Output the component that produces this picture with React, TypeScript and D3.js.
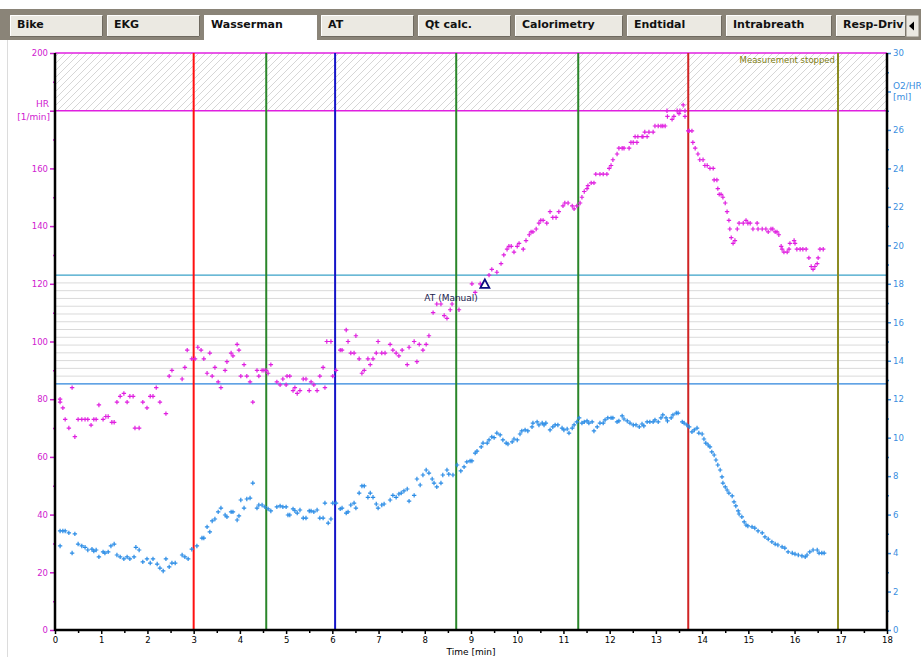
import * as d3 from 'd3'
import { useRef, useEffect } from 'react'

const tabNames = ['Bike', 'EKG', 'Wasserman', 'AT', 'Qt calc.', 'Calorimetry', 'Endtidal', 'Intrabreath', 'Resp-Driv']
const activeTab = 'Wasserman'

const hrTicks = [0, 20, 40, 60, 80, 100, 120, 140, 160, 180, 200]
const o2Ticks = [0, 2, 4, 6, 8, 10, 12, 14, 16, 18, 20, 22, 24, 26, 28, 30]
const timeTicks = [0, 1, 2, 3, 4, 5, 6, 7, 8, 9, 10, 11, 12, 13, 14, 15, 16, 17, 18]
// tick labels hidden behind the axis titles
const hrHiddenLabel = 180
const o2HiddenLabel = 28

// phase markers (min)
const eventTimes = [3.0, 4.57, 6.06, 8.68, 11.32, 13.7, 16.94]
const eventColors = ['#ff1010', '#2a862a', '#1414c8', '#2a862a', '#2a862a', '#d02424', '#8c8c22']

const hrLimit = 180
const bandTop = 123
const bandBottom = 85.3
const atTime = 9.3
const atHr = 120

// HR [1/min] : [time, value]
const hrData = [
  [0.11, 80], [0.11, 79], [0.17, 77], [0.22, 73], [0.3, 70], [0.37, 84], [0.43, 67], [0.5, 73], [0.58, 73], [0.65, 73],
  [0.71, 73], [0.78, 71], [0.84, 73], [0.89, 73], [0.95, 78], [1.04, 73], [1.1, 74], [1.15, 74], [1.23, 72], [1.28, 72],
  [1.34, 79], [1.41, 81], [1.49, 82], [1.56, 79], [1.62, 81], [1.69, 81], [1.73, 70], [1.82, 70], [1.9, 79], [1.99, 77],
  [2.06, 81], [2.12, 81], [2.19, 84], [2.27, 79], [2.4, 75], [2.47, 88], [2.53, 90], [2.75, 87], [2.81, 91], [2.86, 97],
  [2.96, 94], [3.03, 94], [3.09, 98], [3.16, 97], [3.22, 94], [3.29, 89], [3.35, 96], [3.4, 88], [3.46, 91], [3.53, 86],
  [3.59, 84], [3.68, 90], [3.72, 93], [3.81, 96], [3.85, 95], [3.94, 99], [3.98, 97], [4.02, 88], [4.09, 92], [4.15, 88],
  [4.22, 86], [4.28, 79], [4.37, 90], [4.41, 88], [4.48, 90], [4.52, 90], [4.57, 90], [4.61, 89], [4.67, 92], [4.8, 86],
  [4.87, 85], [4.93, 87], [5.0, 85], [5.02, 88], [5.08, 88], [5.15, 83], [5.19, 84], [5.24, 82], [5.3, 83], [5.37, 87],
  [5.43, 87], [5.5, 83], [5.54, 86], [5.6, 85], [5.67, 83], [5.73, 88], [5.8, 91], [5.84, 84], [5.88, 100], [5.97, 100],
  [6.01, 88], [6.08, 90], [6.17, 97], [6.21, 97], [6.3, 104], [6.34, 100], [6.4, 96], [6.47, 96], [6.51, 102], [6.58, 94],
  [6.64, 89], [6.69, 90], [6.77, 94], [6.82, 92], [6.88, 94], [6.95, 96], [6.99, 100], [7.07, 96], [7.14, 96], [7.25, 99],
  [7.31, 97], [7.38, 96], [7.44, 95], [7.51, 97], [7.62, 92], [7.66, 98], [7.77, 100], [7.83, 93], [7.88, 99], [7.96, 97],
  [8.03, 99], [8.09, 102], [8.18, 110], [8.26, 113], [8.35, 113], [8.42, 109], [8.48, 108], [8.55, 111], [8.59, 113], [8.74, 111],
  [9.02, 120], [9.09, 117], [9.2, 120], [9.39, 123], [9.45, 125], [9.56, 124], [9.65, 127], [9.71, 130], [9.78, 132], [9.82, 133],
  [9.87, 133], [9.93, 131], [10.0, 133], [10.04, 134], [10.13, 132], [10.19, 135], [10.26, 137], [10.3, 138], [10.34, 138], [10.41, 139],
  [10.47, 141], [10.51, 142], [10.56, 142], [10.64, 141], [10.71, 145], [10.77, 143], [10.84, 143], [10.9, 145], [10.99, 147], [11.03, 148],
  [11.1, 148], [11.19, 147], [11.23, 146], [11.29, 147], [11.36, 148], [11.4, 150], [11.45, 152], [11.51, 153], [11.53, 154], [11.6, 155],
  [11.66, 155], [11.7, 158], [11.79, 158], [11.86, 158], [11.94, 158], [11.99, 160], [12.03, 161], [12.07, 163], [12.16, 165], [12.2, 167],
  [12.27, 167], [12.31, 167], [12.42, 167], [12.46, 169], [12.51, 169], [12.55, 171], [12.59, 169], [12.61, 171], [12.7, 171], [12.72, 171],
  [12.76, 172.6], [12.81, 171], [12.85, 172.6], [12.94, 172.6], [12.98, 174.7], [13.05, 174.7], [13.11, 174.7], [13.15, 174.7], [13.2, 174.7], [13.25, 178],
  [13.24, 180], [13.35, 177], [13.39, 178], [13.46, 180], [13.5, 179], [13.52, 180], [13.59, 182], [13.63, 180], [13.63, 178], [13.7, 173],
  [13.72, 173], [13.78, 173], [13.8, 169], [13.85, 167], [13.91, 165], [13.95, 163], [14.02, 163], [14.06, 161], [14.11, 161], [14.17, 160],
  [14.24, 160], [14.26, 156], [14.32, 156], [14.34, 153], [14.37, 151], [14.41, 151], [14.45, 150], [14.5, 148], [14.54, 145], [14.58, 142],
  [14.6, 139], [14.63, 136], [14.67, 134], [14.71, 135], [14.76, 139], [14.8, 141], [14.89, 141], [14.95, 142], [14.99, 141], [15.04, 141],
  [15.1, 139], [15.19, 141], [15.21, 139], [15.3, 139], [15.38, 139], [15.43, 138], [15.49, 139], [15.53, 139], [15.58, 138], [15.62, 138],
  [15.66, 137], [15.71, 133], [15.73, 132], [15.77, 131], [15.84, 131], [15.88, 132], [15.9, 134], [15.99, 135], [16.01, 134], [16.05, 132],
  [16.12, 132], [16.18, 132], [16.25, 132], [16.31, 129], [16.36, 126], [16.4, 125], [16.44, 126], [16.49, 127], [16.51, 129], [16.55, 132],
  [16.62, 132]
]

// O2/HR [ml] : [time, value]
const o2hrData = [
  [0.11, 5.15], [0.17, 5.15], [0.22, 5.15], [0.3, 5.05], [0.43, 5.0], [0.11, 4.37], [0.37, 4.0], [0.5, 4.47], [0.58, 4.37], [0.65, 4.3],
  [0.71, 4.16], [0.8, 4.2], [0.84, 4.1], [0.89, 4.16], [0.95, 3.8], [1.04, 4.06], [1.08, 4.0], [1.15, 4.06], [1.21, 4.37], [1.28, 4.47],
  [1.34, 3.9], [1.41, 3.8], [1.49, 3.7], [1.56, 3.8], [1.62, 3.7], [1.71, 3.8], [1.75, 4.3], [1.82, 4.16], [1.9, 3.54], [1.99, 3.7],
  [2.06, 3.48], [2.12, 3.7], [2.21, 3.43], [2.27, 3.22], [2.34, 3.07], [2.4, 3.7], [2.47, 3.28], [2.53, 3.48], [2.6, 3.48], [2.75, 3.9],
  [2.81, 3.8], [2.88, 3.7], [2.96, 4.2], [3.07, 4.37], [3.18, 4.78], [3.22, 4.78], [3.29, 5.36], [3.35, 5.1], [3.4, 5.67], [3.46, 5.77],
  [3.53, 6.14], [3.59, 6.34], [3.68, 5.98], [3.72, 5.88], [3.81, 6.14], [3.85, 6.14], [3.94, 5.72], [3.98, 5.93], [4.02, 6.76], [4.09, 6.34],
  [4.15, 6.81], [4.22, 6.86], [4.28, 7.64], [4.37, 6.34], [4.41, 6.5], [4.48, 6.5], [4.54, 6.4], [4.61, 6.3], [4.67, 6.19], [4.8, 6.4],
  [4.87, 6.45], [4.93, 6.4], [5.0, 6.4], [5.04, 5.98], [5.08, 5.98], [5.15, 6.3], [5.19, 6.2], [5.24, 6.08], [5.3, 6.24], [5.37, 5.82],
  [5.43, 5.82], [5.5, 6.19], [5.54, 6.19], [5.6, 6.14], [5.67, 6.24], [5.73, 5.82], [5.8, 5.82], [5.84, 6.6], [5.91, 5.56], [5.97, 5.77],
  [6.01, 6.6], [6.08, 6.6], [6.17, 6.3], [6.21, 6.34], [6.3, 6.08], [6.34, 6.14], [6.4, 6.5], [6.47, 6.6], [6.51, 6.34], [6.58, 7.12],
  [6.64, 7.49], [6.69, 7.49], [6.77, 6.9], [6.82, 7.12], [6.88, 6.9], [6.95, 6.55], [6.99, 6.34], [7.07, 6.5], [7.12, 6.55], [7.25, 6.76],
  [7.31, 7.0], [7.38, 6.9], [7.44, 7.07], [7.49, 7.12], [7.55, 7.23], [7.62, 7.33], [7.66, 6.7], [7.77, 7.0], [7.83, 7.85], [7.9, 7.54],
  [7.96, 8.06], [8.03, 8.32], [8.09, 8.16], [8.16, 7.85], [8.2, 7.64], [8.26, 7.44], [8.35, 7.64], [8.39, 8.06], [8.48, 8.32], [8.52, 8.1],
  [8.61, 8.06], [8.7, 8.58], [8.78, 8.27], [8.85, 8.48], [8.91, 8.74], [8.98, 8.79], [9.02, 8.79], [9.09, 9.2], [9.13, 9.3], [9.22, 9.52],
  [9.26, 9.72], [9.35, 9.72], [9.39, 9.88], [9.45, 10.04], [9.5, 10.0], [9.56, 10.24], [9.63, 10.14], [9.69, 9.88], [9.76, 9.72], [9.8, 9.67],
  [9.89, 9.78], [9.93, 9.93], [10.0, 9.88], [10.06, 10.19], [10.1, 10.35], [10.17, 10.4], [10.23, 10.35], [10.32, 10.56], [10.34, 10.76], [10.43, 10.82],
  [10.47, 10.66], [10.54, 10.76], [10.58, 10.66], [10.62, 10.76], [10.71, 10.4], [10.77, 10.56], [10.82, 10.66], [10.88, 10.66], [10.97, 10.5], [11.01, 10.4],
  [11.08, 10.45], [11.12, 10.24], [11.19, 10.5], [11.23, 10.66], [11.29, 10.82], [11.34, 11.03], [11.4, 10.76], [11.45, 10.82], [11.51, 10.87], [11.55, 10.76],
  [11.62, 10.82], [11.66, 10.35], [11.73, 10.56], [11.79, 10.76], [11.86, 10.76], [11.9, 10.92], [11.96, 11.03], [12.03, 11.03], [12.07, 11.03], [12.16, 10.82],
  [12.2, 10.87], [12.27, 11.13], [12.31, 10.97], [12.38, 10.87], [12.44, 10.76], [12.51, 10.66], [12.57, 10.66], [12.64, 10.56], [12.7, 10.71], [12.74, 10.61],
  [12.81, 10.82], [12.87, 10.82], [12.94, 10.82], [12.98, 10.92], [13.05, 10.82], [13.11, 11.03], [13.15, 11.18], [13.22, 11.03], [13.25, 10.87], [13.33, 11.03],
  [13.37, 11.18], [13.44, 11.28], [13.48, 11.28], [13.57, 10.82], [13.61, 10.76], [13.67, 10.66], [13.72, 10.56], [13.78, 10.3], [13.83, 10.4], [13.89, 10.5],
  [13.93, 10.24], [14.0, 10.19], [14.04, 9.93], [14.08, 9.72], [14.13, 9.62], [14.17, 9.52], [14.21, 9.26], [14.26, 9.1], [14.3, 8.84], [14.34, 8.58],
  [14.39, 8.32], [14.43, 7.96], [14.45, 7.64], [14.5, 7.44], [14.54, 7.28], [14.58, 7.12], [14.65, 6.97], [14.69, 6.66], [14.73, 6.45], [14.78, 6.19],
  [14.8, 6.03], [14.86, 5.88], [14.91, 5.62], [14.95, 5.46], [14.99, 5.41], [15.08, 5.36], [15.14, 5.3], [15.21, 5.15], [15.3, 5.05], [15.36, 4.84],
  [15.43, 4.73], [15.51, 4.58], [15.58, 4.47], [15.64, 4.42], [15.73, 4.32], [15.79, 4.26], [15.86, 4.06], [15.95, 4.0], [16.01, 3.95], [16.08, 3.9],
  [16.16, 3.85], [16.23, 3.8], [16.27, 3.9], [16.33, 4.06], [16.4, 4.16], [16.49, 4.16], [16.53, 4.0], [16.59, 4.0], [16.64, 4.0]
]

const App = () => {
  const chart = useRef<SVGSVGElement>(null)

  useEffect(() => {
    drawChart()
  }, [])

  const drawChart = () => {
    const W = 921
    const H = 657
    const margin = { top: 53, right: 34, bottom: 27, left: 55 }
    const font = 'DejaVu Sans, Verdana, sans-serif'
    const magenta = '#e020e0'
    const hrText = '#d020d0'
    const blue = '#2a8ce6'
    const blueText = '#3a8ee0'

    const svg = d3.select(chart.current)
    svg.selectAll('*').remove()
    svg.attr('width', W).attr('height', H)

    const x = d3.scaleLinear().domain([0, 18]).range([margin.left, W - margin.right])
    const yHr = d3.scaleLinear().domain([0, 200]).range([H - margin.bottom, margin.top])
    const yO2 = d3.scaleLinear().domain([0, 30]).range([H - margin.bottom, margin.top])
    const [x0, x1] = x.range()
    const [yb, yt] = yHr.range()

    svg.append('rect').attr('width', W).attr('height', H).attr('fill', '#fff')

    // tab strip
    svg.append('rect').attr('x', 0).attr('y', 9).attr('width', W).attr('height', 31).attr('fill', '#8a8478')
    const tabWidths = [93, 93, 113, 93, 93, 108, 95, 106, 70]
    let tx = 10
    tabNames.forEach((name, i) => {
      const w = tabWidths[i]
      const active = name === activeTab
      const g = svg.append('g')
      g.append('rect')
        .attr('x', tx).attr('y', 15)
        .attr('width', w).attr('height', active ? 27 : 22)
        .attr('fill', active ? '#fff' : '#ebe9e2')
      if (!active) {
        g.append('path').attr('d', `M${tx + 0.5},37V15.5H${tx + w}`).attr('stroke', '#fff').attr('fill', 'none')
        g.append('path').attr('d', `M${tx + w - 0.5},15.5V36.5H${tx}`).attr('stroke', '#6f6a60').attr('fill', 'none')
      }
      g.append('text')
        .attr('x', tx + 7).attr('y', 28)
        .attr('font-family', font).attr('font-size', 11).attr('font-weight', 'bold')
        .attr('fill', '#111')
        .text(name)
      tx += w + 4
    })
    svg.append('rect').attr('x', 906).attr('y', 15).attr('width', 13).attr('height', 22).attr('fill', '#ebe9e2').attr('stroke', '#8a8478')
    svg.append('path').attr('d', 'M909,26L914,21.5V30.5Z').attr('fill', '#000')

    // panel edge
    svg.append('line').attr('x1', 7.5).attr('x2', 7.5).attr('y1', 40).attr('y2', H).attr('stroke', '#dcdcdc')

    // hatched area above HR limit
    const defs = svg.append('defs')
    const pat = defs.append('pattern').attr('id', 'hatch').attr('patternUnits', 'userSpaceOnUse')
      .attr('width', 7).attr('height', 7)
    pat.append('path').attr('d', 'M-1,8L8,-1M-1,1L1,-1M6,8L8,6').attr('stroke', '#d6d6d6').attr('stroke-width', 1)
    svg.append('rect')
      .attr('x', x0).attr('y', yt)
      .attr('width', x1 - x0).attr('height', yHr(hrLimit) - yt)
      .attr('fill', 'url(#hatch)')

    // band between thresholds
    const bandY = d3.scaleLinear().domain([0, 14]).range([yHr(bandTop), yHr(bandBottom)])
    svg.append('g').selectAll('line').data(d3.range(1, 14)).join('line')
      .attr('x1', x0).attr('x2', x1)
      .attr('y1', d => bandY(d)).attr('y2', d => bandY(d))
      .attr('stroke', '#dadada').attr('stroke-width', 1)
    svg.append('line').attr('x1', x0).attr('x2', x1)
      .attr('y1', yHr(bandTop)).attr('y2', yHr(bandTop))
      .attr('stroke', '#3aa2c8').attr('stroke-width', 1.2)
    svg.append('line').attr('x1', x0).attr('x2', x1)
      .attr('y1', yHr(bandBottom)).attr('y2', yHr(bandBottom))
      .attr('stroke', '#2c84dc').attr('stroke-width', 1.2)

    // HR limit lines
    svg.append('line').attr('x1', x0).attr('x2', x1)
      .attr('y1', yHr(hrLimit)).attr('y2', yHr(hrLimit))
      .attr('stroke', magenta).attr('stroke-width', 1.5)
    svg.append('line').attr('x1', x0).attr('x2', x1)
      .attr('y1', yHr(200)).attr('y2', yHr(200))
      .attr('stroke', magenta).attr('stroke-width', 1.5)

    // phase markers
    svg.append('g').selectAll('line').data(eventTimes).join('line')
      .attr('x1', d => x(d)).attr('x2', d => x(d))
      .attr('y1', yt).attr('y2', yb)
      .attr('stroke', (d, i) => eventColors[i]).attr('stroke-width', 2)

    svg.append('text')
      .attr('x', x(eventTimes[6]) - 3).attr('y', 63)
      .attr('text-anchor', 'end')
      .attr('font-family', font).attr('font-size', 8.5)
      .attr('fill', '#7c7c10')
      .text('Measurement stopped')

    // data points
    const plus = 'M-2.2,0H2.2M0,-2.2V2.2'
    svg.append('g').selectAll('path').data(o2hrData).join('path')
      .attr('transform', d => `translate(${x(d[0])},${yO2(d[1])})`)
      .attr('d', plus).attr('stroke', blue).attr('stroke-width', 1.2)
    svg.append('g').selectAll('path').data(hrData).join('path')
      .attr('transform', d => `translate(${x(d[0])},${yHr(d[1])})`)
      .attr('d', plus).attr('stroke', magenta).attr('stroke-width', 1.2)

    // AT marker
    const ax = x(atTime)
    const ay = yHr(atHr)
    svg.append('path')
      .attr('d', `M${ax},${ay - 4.5}L${ax + 4.5},${ay + 4}H${ax - 4.5}Z`)
      .attr('fill', 'none').attr('stroke', '#0a0a80').attr('stroke-width', 1.8)
    svg.append('text')
      .attr('x', ax - 7).attr('y', ay + 17)
      .attr('text-anchor', 'end')
      .attr('font-family', font).attr('font-size', 9)
      .attr('fill', '#1c1c50')
      .text('AT (Manual)')

    // axes
    const styleAxis = (g, color) => {
      g.select('.domain').remove()
      g.selectAll('.tick line').attr('stroke', color).attr('stroke-width', 1.5)
      g.selectAll('.tick text').attr('fill', color).attr('font-family', font).attr('font-size', 8.5)
    }

    const left = svg.append('g').attr('transform', `translate(${x0},0)`)
      .call(d3.axisLeft(yHr).tickValues(d3.range(10, 200, 20)).tickSize(2).tickFormat(() => ''))
    styleAxis(left, magenta)
    const leftMajor = svg.append('g').attr('transform', `translate(${x0},0)`)
      .call(d3.axisLeft(yHr).tickValues(hrTicks).tickSize(5).tickPadding(2)
        .tickFormat(d => (d === hrHiddenLabel ? '' : String(d))))
    styleAxis(leftMajor, hrText)

    const right = svg.append('g').attr('transform', `translate(${x1},0)`)
      .call(d3.axisRight(yO2).tickValues(d3.range(1, 30, 2)).tickSize(2).tickFormat(() => ''))
    styleAxis(right, blue)
    const rightMajor = svg.append('g').attr('transform', `translate(${x1},0)`)
      .call(d3.axisRight(yO2).tickValues(o2Ticks).tickSize(4).tickPadding(2)
        .tickFormat(d => (d === o2HiddenLabel ? '' : String(d))))
    styleAxis(rightMajor, blueText)

    const bottom = svg.append('g').attr('transform', `translate(0,${yb})`)
      .call(d3.axisBottom(x).tickValues(d3.range(0.5, 18, 1)).tickSize(3).tickFormat(() => ''))
    styleAxis(bottom, '#000')
    const bottomMajor = svg.append('g').attr('transform', `translate(0,${yb})`)
      .call(d3.axisBottom(x).tickValues(timeTicks).tickSize(4).tickPadding(3))
    styleAxis(bottomMajor, '#000')

    // axis frame lines
    svg.append('line').attr('x1', x0).attr('x2', x0).attr('y1', yt).attr('y2', yb + 1)
      .attr('stroke', '#000').attr('stroke-width', 2.5)
    svg.append('line').attr('x1', x1).attr('x2', x1).attr('y1', yt).attr('y2', yb + 1)
      .attr('stroke', '#000').attr('stroke-width', 2.5)
    svg.append('line').attr('x1', x0).attr('x2', x1).attr('y1', yb).attr('y2', yb)
      .attr('stroke', '#000').attr('stroke-width', 2.5)

    // axis titles
    const leftTitle = svg.append('text')
      .attr('text-anchor', 'end').attr('font-family', font).attr('font-size', 9).attr('fill', hrText)
    leftTitle.append('tspan').attr('x', 49).attr('y', 107).text('HR')
    leftTitle.append('tspan').attr('x', 50).attr('y', 120).text('[1/min]')

    const rightTitle = svg.append('text')
      .attr('font-family', font).attr('font-size', 9).attr('fill', blueText)
    rightTitle.append('tspan').attr('x', 893).attr('y', 89).text('O2/HR')
    rightTitle.append('tspan').attr('x', 893).attr('y', 100).text('[ml]')

    svg.append('text')
      .attr('x', (x0 + x1) / 2).attr('y', 655)
      .attr('text-anchor', 'middle')
      .attr('font-family', font).attr('font-size', 9).attr('fill', '#000')
      .text('Time  [min]')
  }

  return (
    <div style={{ position: 'absolute', left: 0, top: 0 }}>
      <svg ref={chart}></svg>
    </div>
  )
}

export default App
